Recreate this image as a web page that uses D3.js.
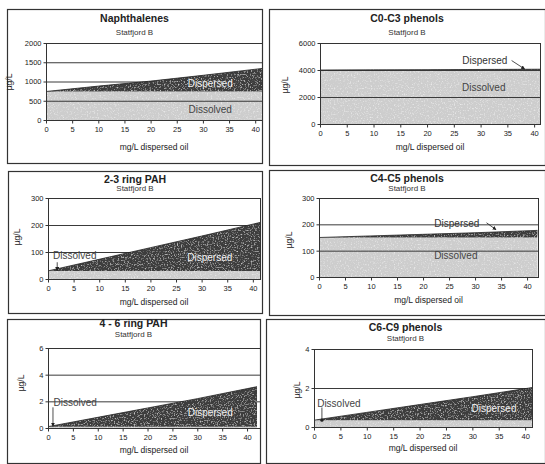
<!DOCTYPE html>
<html>
<head>
<meta charset="utf-8">
<script src="https://cdn.jsdelivr.net/npm/d3@7"></script>
<style>
  body { margin: 0; background: #fff; }
  svg { display: block; font-family: "Liberation Sans", Arial, sans-serif; }
  .tick text { font-size: 7.5px; fill: #222; }
</style>
</head>
<body>
<div id="chart"></div>
<script>
// data (mg/L dispersed oil vs µg/L)
const oilConc = [0, 10, 20, 30, 42];
const xTicks = [0, 5, 10, 15, 20, 25, 30, 35, 40];
const subtitle = "Statfjord B";
const xTitle = "mg/L dispersed oil";
const yTitle = "µg/L";

const titles = ["Naphthalenes", "C0-C3 phenols", "2-3 ring PAH", "C4-C5 phenols", "4 - 6 ring PAH", "C6-C9 phenols"];

const naphDissolved = [740, 740, 740, 740, 740];
const naphTotal = [740, 880, 1010, 1160, 1350];
const c0c3Dissolved = [4000, 4000, 4000, 4000, 4000];
const c0c3Total = [4000, 4010, 4025, 4040, 4060];
const pah23Dissolved = [30, 30, 30, 30, 30];
const pah23Total = [30, 73, 116, 159, 212];
const c4c5Dissolved = [150, 150, 150, 150, 150];
const c4c5Total = [150, 156, 162, 168, 177];
const pah46Dissolved = [0.1, 0.1, 0.1, 0.1, 0.1];
const pah46Total = [0.1, 0.8, 1.5, 2.2, 3.1];
const c6c9Dissolved = [0.35, 0.35, 0.35, 0.35, 0.35];
const c6c9Total = [0.35, 0.75, 1.15, 1.55, 2.05];

const yTicksList = [
  [0, 500, 1000, 1500, 2000],
  [0, 2000, 4000, 6000],
  [0, 100, 200, 300],
  [0, 100, 200, 300],
  [0, 2, 4, 6],
  [0, 2, 4]
];
const dissolvedList = [naphDissolved, c0c3Dissolved, pah23Dissolved, c4c5Dissolved, pah46Dissolved, c6c9Dissolved];
const totalList = [naphTotal, c0c3Total, pah23Total, c4c5Total, pah46Total, c6c9Total];

// layout of each panel (pixels)
const layout = [
  {box: [7, 9, 262, 163], l: 46, r: 262, t: 43, b: 120, xMax: 41.3, titleY: 22, subY: 35, xlabY: 150, ylab: [12, 82],
   disp: {x: 31.4, y: 960, light: true}, diss: {x: 31.4, y: 260}},
  {box: [269, 9, 545, 165], l: 320, r: 540, t: 43, b: 124, xMax: 41.1, titleY: 22, subY: 35, xlabY: 150, ylab: [288, 85],
   disp: {x: 30.8, y: 4700, arrow: [[35.8, 4700], [38.2, 4080]]}, diss: {x: 30.6, y: 2740}},
  {box: [8, 171, 262, 313], l: 48, r: 260, t: 198, b: 279, xMax: 41.4, titleY: 183, subY: 191, xlabY: 305, ylab: [20, 237],
   disp: {x: 31.6, y: 80, light: true}, diss: {x: 1, y: 86, anchor: "start", arrow: [[1.8, 62], [1.8, 32]]}},
  {box: [269, 170, 545, 315], l: 319, r: 538, t: 198, b: 277, xMax: 42.1, titleY: 182, subY: 191, xlabY: 303, ylab: [292, 240],
   disp: {x: 26.5, y: 205, arrow: [[32.2, 206], [34, 180]]}, diss: {x: 26.3, y: 83}},
  {box: [7, 319, 260, 463], l: 48, r: 260, t: 348, b: 428, xMax: 42.6, titleY: 327, subY: 337, xlabY: 453, ylab: [24, 383],
   disp: {x: 32.6, y: 1.2, light: true}, diss: {x: 1.1, y: 1.9, anchor: "start", arrow: [[1, 1.55], [1, 0.15]]}},
  {box: [266, 319, 545, 463], l: 314, r: 532, t: 349, b: 427, xMax: 41.3, titleY: 331, subY: 341, xlabY: 451, ylab: [300, 390],
   disp: {x: 34.1, y: 0.97, light: true}, diss: {x: 0.6, y: 1.23, anchor: "start", dot: [[1.5, 1.0], [1.5, 0.35]]}}
];

const W = 545, H = 464;
const svg = d3.select("#chart").append("svg")
  .attr("width", W).attr("height", H)
  .attr("viewBox", `0 0 ${W} ${H}`);

const defs = svg.append("defs");
// speckle texture of the scanned print
const grain = defs.append("filter").attr("id", "grain")
  .attr("x", 0).attr("y", 0).attr("width", 1).attr("height", 1);
grain.append("feTurbulence").attr("type", "fractalNoise")
  .attr("baseFrequency", 0.7).attr("numOctaves", 2).attr("seed", 3).attr("result", "n");
grain.append("feColorMatrix").attr("in", "n").attr("type", "matrix")
  .attr("values", "0 0 0 0 1  0 0 0 0 1  0 0 0 0 1  0 0 0 1.6 -0.85").attr("result", "w");
grain.append("feComposite").attr("in", "w").attr("in2", "SourceGraphic").attr("operator", "in").attr("result", "speck");
const merge = grain.append("feMerge");
merge.append("feMergeNode").attr("in", "SourceGraphic");
merge.append("feMergeNode").attr("in", "speck");

defs.append("marker").attr("id", "arr")
  .attr("viewBox", "0 0 6 6").attr("refX", 5).attr("refY", 3)
  .attr("markerWidth", 5).attr("markerHeight", 5).attr("orient", "auto")
  .append("path").attr("d", "M0,0L6,3L0,6Z").attr("fill", "#222");

layout.forEach((p, i) => {
  const g = svg.append("g");
  const [bx0, by0, bx1, by1] = p.box;
  g.append("rect")
    .attr("x", bx0 + 0.5).attr("y", by0 + 0.5)
    .attr("width", bx1 - bx0).attr("height", by1 - by0)
    .attr("fill", "#fff").attr("stroke", "#333").attr("stroke-width", 1.2);

  const yTicks = yTicksList[i];
  const x = d3.scaleLinear().domain([0, p.xMax]).range([p.l, p.r]);
  const y = d3.scaleLinear().domain([0, d3.max(yTicks)]).range([p.b, p.t]);

  const rows = oilConc.map((c, k) => ({x: c, d: dissolvedList[i][k], t: totalList[i][k]}));

  g.append("clipPath").attr("id", "clip" + i)
    .append("rect").attr("x", p.l).attr("y", p.t).attr("width", p.r - p.l).attr("height", p.b - p.t);
  const plot = g.append("g").attr("clip-path", `url(#clip${i})`);

  // dissolved (light)
  plot.append("path").datum(rows)
    .attr("d", d3.area().x(d => x(d.x)).y0(y(0)).y1(d => y(d.d)))
    .attr("fill", "#cdcdcd").attr("filter", "url(#grain)");

  // gridlines
  plot.selectAll(".grid").data(yTicks.filter(v => v > 0 && v < d3.max(yTicks)))
    .enter().append("line")
    .attr("x1", p.l).attr("x2", p.r)
    .attr("y1", d => y(d) + 0.5).attr("y2", d => y(d) + 0.5)
    .attr("stroke", "#3a3a3a").attr("stroke-width", 1);

  // dispersed (dark)
  plot.append("path").datum(rows)
    .attr("d", d3.area().x(d => x(d.x)).y0(d => y(d.d)).y1(d => y(d.t)))
    .attr("fill", "#3c3c3c").attr("filter", "url(#grain)");
  plot.append("path").datum(rows)
    .attr("d", d3.line().x(d => x(d.x)).y(d => y(d.t)))
    .attr("fill", "none").attr("stroke", "#222").attr("stroke-width", 0.8);

  // plot frame
  g.append("rect")
    .attr("x", p.l + 0.5).attr("y", p.t + 0.5)
    .attr("width", p.r - p.l).attr("height", p.b - p.t)
    .attr("fill", "none").attr("stroke", "#333").attr("stroke-width", 1);

  // axes
  const fmt = d3.format("~g");
  g.append("g").attr("transform", `translate(0,${p.b + 0.5})`)
    .call(d3.axisBottom(x).tickValues(xTicks).tickFormat(fmt).tickSize(3).tickSizeOuter(0).tickPadding(3))
    .call(a => a.select(".domain").remove())
    .call(a => a.selectAll("line").attr("stroke", "#333"));
  g.append("g").attr("transform", `translate(${p.l + 0.5},0)`)
    .call(d3.axisLeft(y).tickValues(yTicks).tickFormat(fmt).tickSize(3).tickSizeOuter(0).tickPadding(2))
    .call(a => a.select(".domain").remove())
    .call(a => a.selectAll("line").attr("stroke", "#333"));

  // titles
  const cx = (bx0 + bx1) / 2;
  g.append("text").attr("x", cx).attr("y", p.titleY).attr("text-anchor", "middle")
    .attr("font-size", 10.5).attr("font-weight", "bold").attr("fill", "#222").text(titles[i]);
  g.append("text").attr("x", cx).attr("y", p.subY).attr("text-anchor", "middle")
    .attr("font-size", 8).attr("fill", "#333").text(subtitle);
  g.append("text").attr("x", (p.l + p.r) / 2).attr("y", p.xlabY).attr("text-anchor", "middle")
    .attr("font-size", 8.5).attr("fill", "#222").text(xTitle);
  g.append("text").attr("transform", `translate(${p.ylab[0]},${p.ylab[1]}) rotate(-90)`)
    .attr("text-anchor", "middle").attr("font-size", 8.5).attr("fill", "#222").text(yTitle);

  // annotations
  const ds = p.disp;
  g.append("text").attr("x", x(ds.x)).attr("y", y(ds.y) + 3.5).attr("text-anchor", "middle")
    .attr("font-size", 10)
    .attr("fill", ds.light ? "#f2f2f2" : "#333")
    .text("Dispersed");
  if (ds.arrow) {
    g.append("line")
      .attr("x1", x(ds.arrow[0][0])).attr("y1", y(ds.arrow[0][1]))
      .attr("x2", x(ds.arrow[1][0])).attr("y2", y(ds.arrow[1][1]))
      .attr("stroke", "#222").attr("stroke-width", 0.8).attr("marker-end", "url(#arr)");
  }
  const dv = p.diss;
  g.append("text").attr("x", x(dv.x)).attr("y", y(dv.y) + 3.5)
    .attr("text-anchor", dv.anchor || "middle")
    .attr("font-size", 10).attr("fill", "#444").text("Dissolved");
  if (dv.arrow) {
    g.append("line")
      .attr("x1", x(dv.arrow[0][0])).attr("y1", y(dv.arrow[0][1]))
      .attr("x2", x(dv.arrow[1][0])).attr("y2", y(dv.arrow[1][1]))
      .attr("stroke", "#222").attr("stroke-width", 0.8).attr("marker-end", "url(#arr)");
  }
  if (dv.dot) {
    g.append("line")
      .attr("x1", x(dv.dot[0][0])).attr("y1", y(dv.dot[0][1]))
      .attr("x2", x(dv.dot[1][0])).attr("y2", y(dv.dot[1][1]))
      .attr("stroke", "#222").attr("stroke-width", 0.8);
    g.append("circle").attr("cx", x(dv.dot[1][0])).attr("cy", y(dv.dot[1][1]))
      .attr("r", 1.6).attr("fill", "#222");
  }
});
</script>
</body>
</html>
